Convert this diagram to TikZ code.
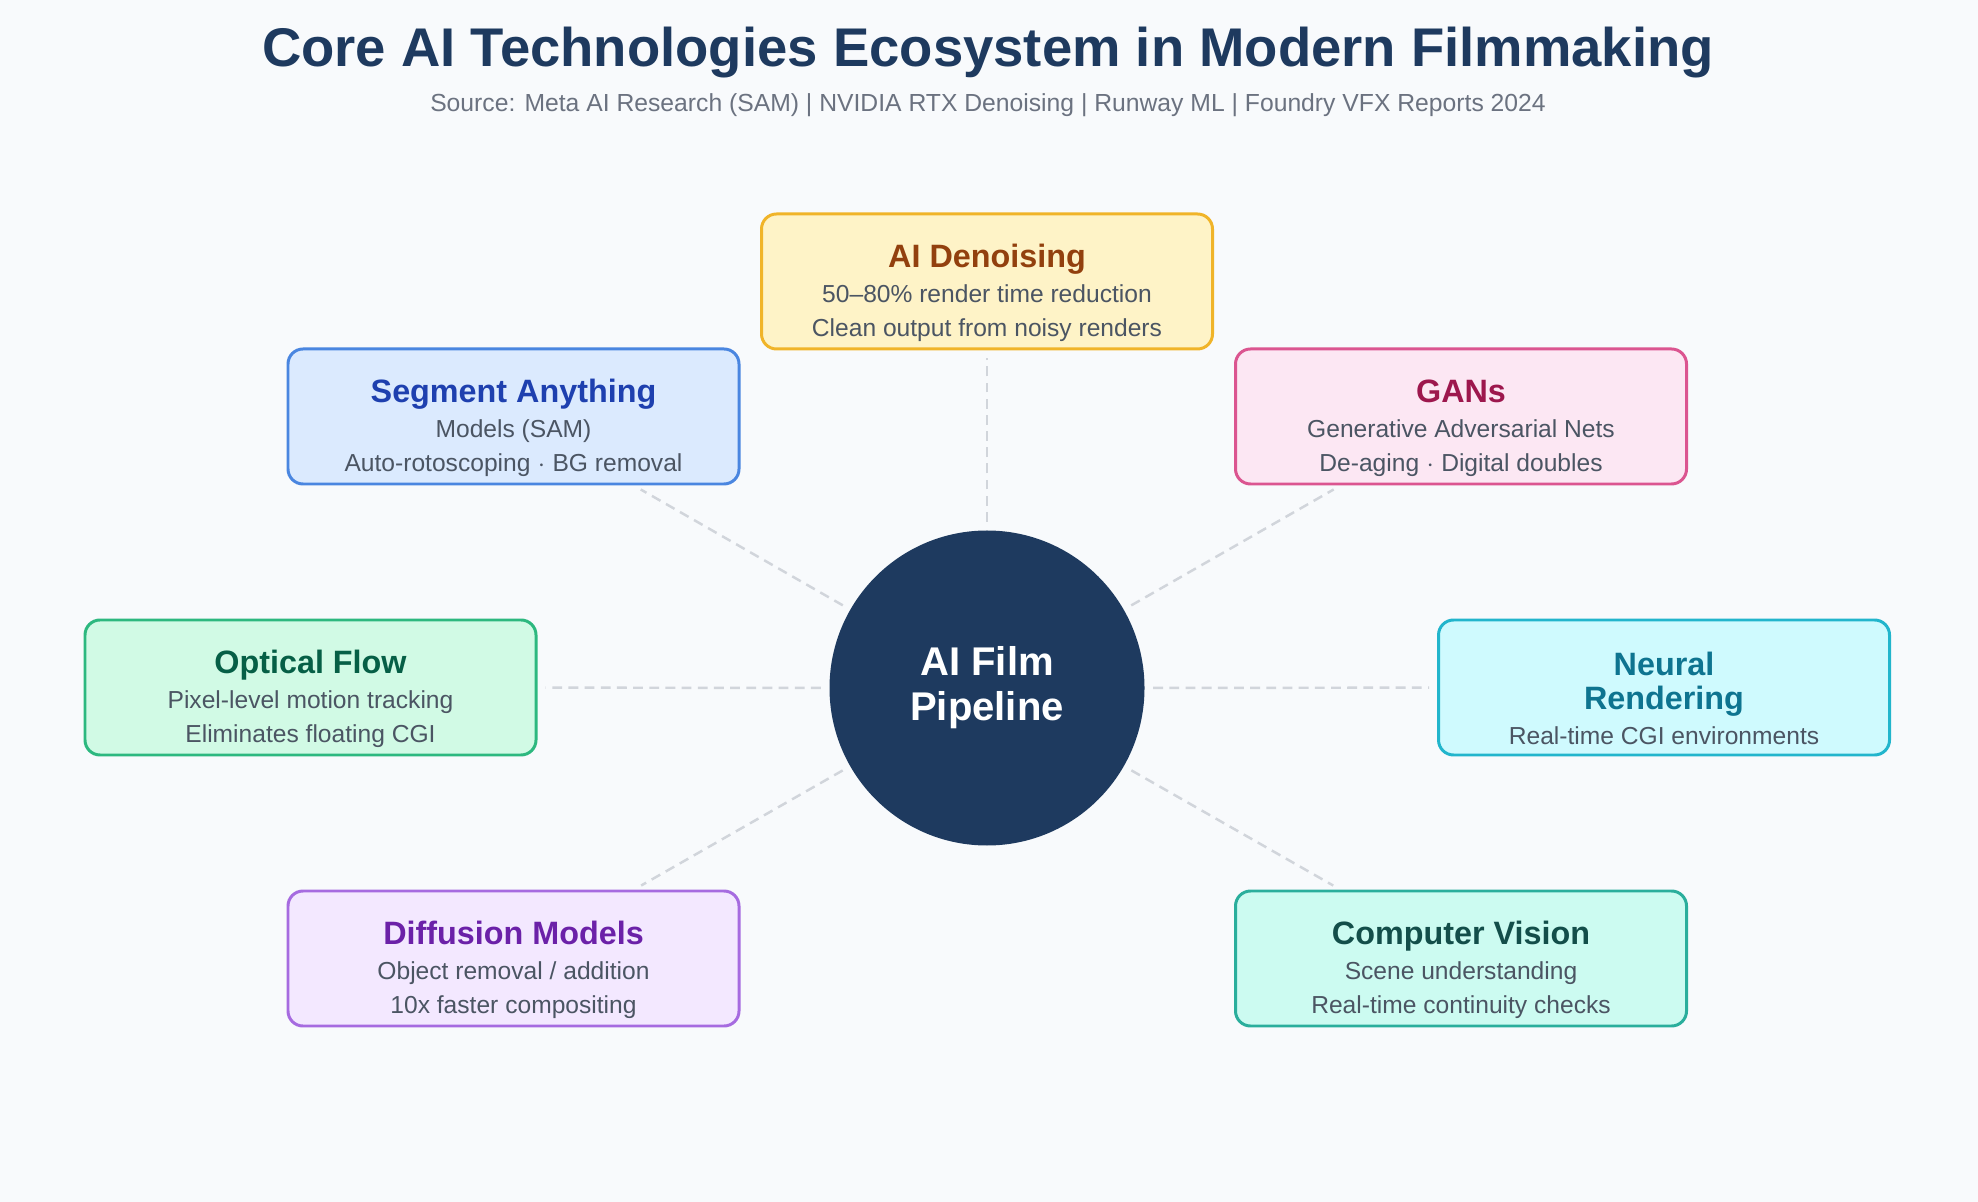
\documentclass[tikz,border=0pt]{standalone}
\usepackage{fontspec}
\setmainfont{Liberation Sans}
\usetikzlibrary{positioning}
\definecolor{bgc}{HTML}{F8FAFC}
\definecolor{navy}{HTML}{1E3A5F}
\definecolor{subgray}{HTML}{4B5563}
\definecolor{srcgray}{HTML}{6B7280}
\definecolor{linegray}{HTML}{D1D5DB}
\definecolor{denF}{HTML}{FEF3C7}\definecolor{denD}{HTML}{F0B429}\definecolor{denT}{HTML}{92400E}
\definecolor{samF}{HTML}{DBEAFE}\definecolor{samD}{HTML}{4A86E0}\definecolor{samT}{HTML}{1E40AF}
\definecolor{ganF}{HTML}{FCE7F3}\definecolor{ganD}{HTML}{DB5590}\definecolor{ganT}{HTML}{9D174D}
\definecolor{optF}{HTML}{D1FAE5}\definecolor{optD}{HTML}{2DB87F}\definecolor{optT}{HTML}{065F46}
\definecolor{neuF}{HTML}{CFFAFE}\definecolor{neuD}{HTML}{22B5CC}\definecolor{neuT}{HTML}{0E7490}
\definecolor{difF}{HTML}{F3E8FF}\definecolor{difD}{HTML}{A66BE0}\definecolor{difT}{HTML}{6B21A8}
\definecolor{cvF}{HTML}{CCFBF1}\definecolor{cvD}{HTML}{2AAE9C}\definecolor{cvT}{HTML}{134E4A}
\tikzset{
  techbox/.style={draw,rounded corners=1.5mm,line width=0.85pt,
                  minimum width=4.51cm,minimum height=1.35cm,inner sep=2pt,
                  align=center,text=subgray,font=\fontsize{7}{9.5}\selectfont},
  hub/.style={circle,fill=navy,minimum size=3.15cm,inner sep=0pt,align=center,
              text=white,font=\bfseries\fontsize{11.4}{12.8}\selectfont},
  spoke/.style={draw=linegray,line width=0.7pt,dash pattern=on 2.8pt off 1.8pt,
                shorten <=0.08cm,shorten >=0.08cm},
}
% box heading; \hd carries a strut that lowers the text block a little
\newcommand{\ttl}[2]{{\color{#1}\bfseries\fontsize{9.2}{10}\selectfont #2}}
\newcommand{\hd}[2]{\rule{0pt}{13pt}\ttl{#1}{#2}}

\begin{document}
\begin{tikzpicture}
  \fill[bgc] (0,0) rectangle (19.78,-12.02);
  \useasboundingbox (0,0) rectangle (19.78,-12.02);
  % heading
  \node[text=navy,font=\bfseries\fontsize{15.5}{18}\selectfont] (title) at (9.88,-0.53)
    {Core AI Technologies Ecosystem in Modern Filmmaking};
  \node[text=srcgray,font=\fontsize{7.03}{8}\selectfont] (source) at (9.88,-1.05)
    {Source: Meta AI Research (SAM) | NVIDIA RTX Denoising | Runway ML | Foundry VFX Reports 2024};
  % hub and technologies
  \node[hub] (hub) at (9.87,-6.88) {AI Film\\Pipeline};
  \node[techbox,fill=denF,draw=denD] (den) at (9.87,-2.815)
    {\hd{denT}{AI Denoising}\\[0.5pt]50--80\% render time reduction\\Clean output from noisy renders};
  \node[techbox,fill=samF,draw=samD] (sam) at (5.135,-4.165)
    {\hd{samT}{Segment Anything}\\[0.5pt]Models (SAM)\\Auto-rotoscoping $\cdot$ BG removal};
  \node[techbox,fill=ganF,draw=ganD] (gan) at (14.61,-4.165)
    {\hd{ganT}{GANs}\\[0.5pt]Generative Adversarial Nets\\De-aging $\cdot$ Digital doubles};
  \node[techbox,fill=optF,draw=optD] (opt) at (3.105,-6.875)
    {\hd{optT}{Optical Flow}\\[0.5pt]Pixel-level motion tracking\\Eliminates floating CGI};
  \node[techbox,fill=neuF,draw=neuD] (neu) at (16.64,-6.875)
    {\hd{neuT}{Neural}\\\ttl{neuT}{Rendering}\\[0.5pt]Real-time CGI environments};
  \node[techbox,fill=difF,draw=difD] (dif) at (5.135,-9.585)
    {\hd{difT}{Diffusion Models}\\[0.5pt]Object removal / addition\\10x faster compositing};
  \node[techbox,fill=cvF,draw=cvD] (cv) at (14.61,-9.585)
    {\hd{cvT}{Computer Vision}\\[0.5pt]Scene understanding\\Real-time continuity checks};
  % spokes
  \foreach \t in {den,sam,gan,opt,neu,dif,cv}
    \draw[spoke] (hub) -- (\t);
\end{tikzpicture}
\end{document}
